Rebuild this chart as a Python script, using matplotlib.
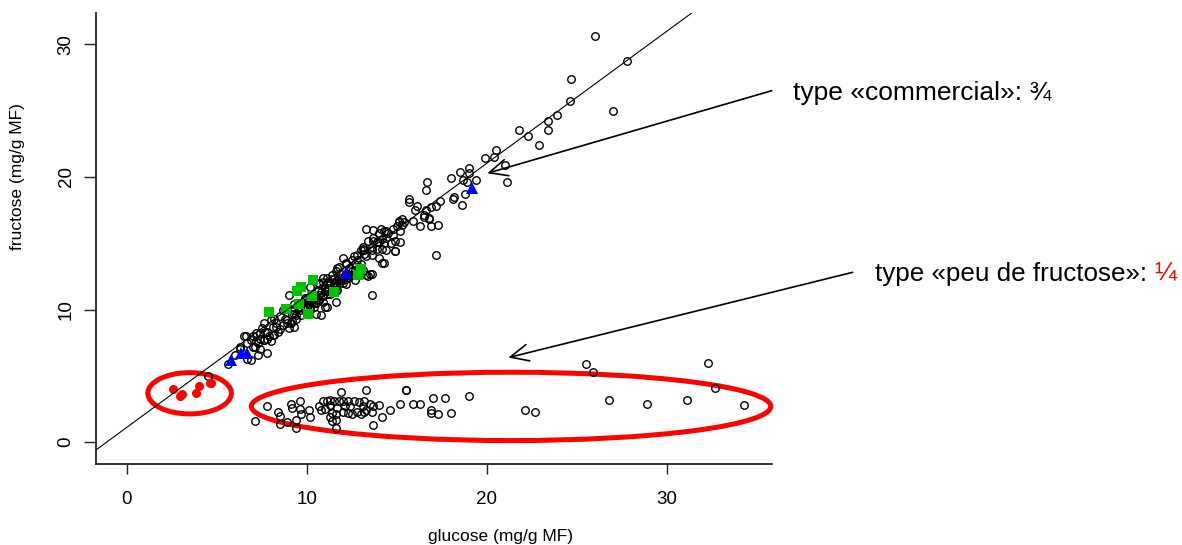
import matplotlib
matplotlib.use("Agg")
import matplotlib.pyplot as plt
from matplotlib.patches import Ellipse

plt.rcParams["font.family"] = ["Liberation Sans", "DejaVu Sans"]

# samples on the glucose/fructose line (open circles)
glucose_main = [
    26.0, 27.8, 24.7, 24.6, 27.0, 23.9, 23.4, 23.4, 21.8, 22.3, 22.9, 20.5, 19.9, 20.4,
    21.0, 21.1, 19.4, 19.0, 18.5, 18.0, 18.7, 19.0, 16.7, 16.6, 18.8, 18.6, 18.1, 18.2,
    15.7, 15.7, 16.1, 17.4, 17.2, 16.9, 16.6, 16.5, 16.8, 17.3, 16.3, 15.9, 15.4, 16.9,
    18.9, 16.0, 16.5, 16.8, 15.1, 15.3, 15.0, 14.8, 13.3, 13.7, 14.1, 14.4, 14.0, 13.7,
    13.4, 13.1, 13.9, 14.2, 14.8, 14.4, 15.2, 14.9, 14.2, 17.2, 13.0, 13.2, 12.8, 13.3,
    13.6, 13.9, 12.0, 11.7, 11.9, 12.4, 12.7, 12.2, 12.8, 12.6, 13.5, 13.4, 13.6, 10.9,
    11.2, 11.5, 10.7, 11.1, 10.6, 10.4, 10.0, 10.3, 10.7, 10.9, 11.3, 11.7, 12.0, 12.3,
    11.6, 11.0, 10.4, 10.0, 9.6, 9.0, 9.3, 9.1, 8.9, 8.5, 8.3, 8.2, 8.0, 8.7, 9.3, 9.5,
    7.6, 7.5, 7.8, 7.2, 7.0, 7.4, 7.8, 8.1, 8.5, 8.3, 6.5, 6.9, 7.2, 7.6, 6.7, 7.0, 7.4,
    7.8, 7.3, 8.0, 5.6, 6.0, 6.3, 6.7, 6.9,
    14.3, 14.5, 15.3, 15.1, 14.9, 15.2, 14.7, 14.3, 14.0, 13.7, 13.6, 14.2, 14.4, 14.9,
    14.0, 14.3, 13.6, 13.2, 13.1, 12.5, 12.2, 11.8, 11.6, 11.4, 11.1, 10.9, 10.7, 11.0,
    11.2, 10.9, 10.7, 10.5, 10.2, 9.9, 9.7, 9.4, 9.2, 8.9, 9.3, 9.0, 8.4, 8.2, 7.9, 7.6,
    7.3, 7.1, 6.6, 6.3, 13.6, 13.3, 12.7, 11.9, 11.5, 11.1, 10.8, 10.5, 9.4, 8.8, 8.7,
    8.1, 7.7, 7.4, 10.2, 9.9, 9.6, 9.2, 9.3,
    9.8, 10.0, 10.1, 10.3, 10.4, 10.5, 10.6, 10.7, 10.8, 10.9, 11.0, 11.1, 11.2, 11.3,
    11.4, 11.5, 11.6, 11.7, 11.8, 11.9, 12.0, 12.1, 12.2, 12.3, 12.4, 12.5, 12.6, 12.7,
    12.8, 12.9, 13.0, 13.1, 10.2, 10.9, 11.6, 12.2, 9.5, 9.9, 10.6, 11.4, 4.5,
]
fructose_main = [
    30.6, 28.7, 27.4, 25.7, 25.0, 24.7, 24.2, 23.5, 23.5, 23.1, 22.4, 22.0, 21.4, 21.5,
    20.9, 19.6, 19.8, 20.7, 20.4, 19.9, 19.8, 20.3, 19.6, 19.0, 18.7, 17.9, 18.3, 18.5,
    18.3, 18.1, 17.8, 18.2, 17.8, 17.7, 17.5, 17.1, 16.9, 16.4, 16.3, 16.7, 16.6, 16.3,
    19.6, 17.5, 17.0, 16.8, 16.7, 16.4, 16.3, 16.1, 16.1, 16.0, 16.1, 15.9, 15.8, 15.4,
    15.2, 14.7, 15.1, 15.3, 15.6, 15.4, 15.9, 14.4, 13.5, 14.1, 14.5, 14.5, 14.1, 14.0,
    14.7, 14.6, 13.9, 13.1, 12.7, 13.1, 13.4, 13.5, 13.7, 14.0, 12.7, 12.5, 11.1, 12.4,
    12.1, 11.7, 12.0, 11.5, 11.4, 11.0, 10.9, 10.6, 10.7, 11.0, 11.2, 11.5, 12.0, 12.4,
    10.6, 10.2, 10.2, 10.2, 10.0, 11.1, 9.7, 9.0, 9.2, 9.5, 9.0, 9.3, 9.2, 10.0, 10.4, 10.2,
    9.0, 8.6, 8.3, 8.2, 8.0, 7.8, 7.8, 8.1, 8.5, 8.7, 8.0, 7.7, 7.6, 7.7, 7.5, 7.2, 7.0,
    6.7, 6.6, 7.6, 5.9, 6.6, 7.0, 6.3, 6.2,
    15.9, 15.8, 16.8, 16.6, 15.2, 15.1, 15.0, 15.0, 15.1, 15.2, 14.5, 14.6, 14.5, 14.4,
    13.9, 13.5, 14.1, 14.2, 14.6, 13.7, 13.4, 13.2, 12.9, 12.6, 12.4, 12.1, 11.9, 11.6,
    11.4, 11.0, 10.7, 10.5, 10.2, 10.0, 9.6, 9.3, 9.1, 9.0, 8.7, 8.6, 8.3, 8.1, 8.0, 7.7,
    7.5, 7.2, 8.0, 7.2, 12.7, 12.6, 12.2, 12.2, 12.0, 10.2, 9.6, 9.7, 9.6, 9.3, 8.8,
    8.7, 8.3, 8.2, 11.7, 10.7, 10.2, 9.7, 10.0,
    10.5, 10.6, 10.4, 10.8, 10.5, 11.0, 10.7, 11.1, 11.3, 11.0, 11.4, 11.2, 11.6, 11.9,
    11.5, 12.0, 11.8, 12.2, 12.0, 12.4, 12.2, 12.6, 12.3, 12.7, 12.5, 12.9, 12.6, 13.0,
    12.8, 13.2, 13.4, 13.0, 10.0, 10.6, 11.4, 11.9, 10.2, 10.9, 11.5, 12.3, 5.0,
]

# low-fructose samples (open circles)
glucose_low = [
    7.1, 7.8, 8.4, 8.5, 8.5, 8.9, 9.1, 9.2, 9.6, 9.6, 9.4, 9.4, 9.7, 10.1, 10.2, 10.7,
    10.9, 11.3, 11.0, 11.3, 11.4, 11.3, 11.6, 11.6, 11.9, 11.8, 12.0, 12.3, 12.0, 12.3,
    12.5, 12.6, 12.9, 12.8, 13.0, 13.2, 13.3, 13.5, 13.6, 13.3, 14.0, 13.7, 14.2, 14.6,
    15.2, 15.5, 15.5, 15.9, 16.3, 11.5, 11.7, 12.1, 12.4, 13.1, 13.2, 13.7, 11.6, 11.4,
    11.1, 10.8, 17.0, 17.7, 16.9, 16.9, 17.3, 18.0, 19.0, 22.1, 22.7, 25.5, 25.9, 26.8,
    28.9, 31.1, 32.3, 32.7, 34.3,
]
fructose_low = [
    1.6, 2.7, 2.3, 2.0, 1.4, 1.5, 2.9, 2.6, 3.1, 2.5, 1.7, 1.1, 2.1, 2.4, 1.9, 2.7,
    3.1, 3.2, 2.5, 2.8, 2.2, 1.9, 1.7, 1.1, 3.8, 3.1, 3.1, 3.1, 2.3, 2.2,
    2.1, 3.1, 3.0, 2.3, 2.1, 3.1, 2.4, 2.9, 2.3, 3.9, 2.8, 1.3, 1.9, 2.4,
    2.9, 3.9, 3.95, 2.9, 2.9, 3.1, 2.6, 2.7, 2.7, 2.7, 2.3, 2.7, 2.1, 1.6,
    3.1, 2.4, 3.3, 3.3, 2.4, 2.2, 2.1, 2.2, 3.5, 2.4, 2.3, 5.9, 5.3, 3.2,
    2.9, 3.2, 6.0, 4.1, 2.8,
]

# highlighted groups
glucose_green = [7.89, 8.83, 9.57, 10.06, 10.28, 9.44, 9.68, 10.35, 11.52, 12.87, 13.02]
fructose_green = [9.84, 10.07, 10.44, 9.69, 11.02, 11.42, 11.68, 12.23, 11.35, 12.61, 13.06]
glucose_blue = [5.78, 6.35, 6.67, 12.17, 19.2]
fructose_blue = [6.20, 6.75, 6.71, 12.78, 19.14]
glucose_red = [2.56, 2.98, 3.05, 4.02, 3.87, 4.68, 4.6]
fructose_red = [4.04, 3.52, 3.62, 4.23, 3.70, 4.44, 4.5]

fit_intercept = 1.12
fit_slope = 0.995

W, H = 1182, 545
fig = plt.figure(figsize=(W / 100, H / 100), dpi=100)
ax = fig.add_axes([96 / W, 1 - 464 / H, (772 - 96) / W, (464 - 13) / H])
ax.set_xlim(-1.71, 35.85)
ax.set_ylim(-1.64, 32.35)

ax.plot(glucose_main, fructose_main, "o", ms=5.4, mfc="none", mec="black", mew=1.0)
ax.plot(glucose_low, fructose_low, "o", ms=5.4, mfc="none", mec="black", mew=1.0)
ax.plot(glucose_green, fructose_green, "s", ms=7.5, color="#00c400", mew=0)
ax.plot(glucose_blue, fructose_blue, "^", ms=8, color="#0000ff", mew=0)
ax.plot(glucose_red, fructose_red, "o", ms=6.5, color="#ff0000", mew=0)
ax.axline((0, fit_intercept), slope=fit_slope, color="black", lw=0.8)

ax.add_patch(Ellipse((3.49, 3.69), 4.64, 3.11, fill=False, ec="#ff0000", lw=3.6, clip_on=False))
ax.add_patch(Ellipse((21.35, 2.70), 28.86, 5.15, fill=False, ec="#ff0000", lw=3.6, clip_on=False))

for side in ["top", "right"]:
    ax.spines[side].set_visible(False)
for side in ["left", "bottom"]:
    ax.spines[side].set_linewidth(1.3)
    ax.spines[side].set_color("#222222")

ax.set_xticks([0, 10, 20, 30])
ax.set_yticks([0, 10, 20, 30])
ax.tick_params(axis="x", length=7.2, width=1, pad=12, labelsize=13.5, color="#222222")
ax.tick_params(axis="y", length=8.4, width=1, pad=7, labelsize=13.5, color="#222222",
               labelrotation=90)
for lbl in ax.get_yticklabels():
    lbl.set_va("center")

fig.text(18 / W, 1 - 177 / H, "fructose (mg/g MF)", rotation=90, ha="center",
         va="center", fontsize=12.5)
fig.text(500 / W, 1 - 537 / H, "glucose (mg/g MF)", ha="center", va="center",
         fontsize=12.5)

arrow = dict(arrowstyle="->,head_length=0.65,head_width=0.3", lw=1.2, color="black",
             shrinkA=0, shrinkB=0, mutation_scale=20)
ax.annotate("", xy=(20.03, 20.27), xycoords="data", xytext=(771.7 / W, 1 - 90.7 / H),
            textcoords="figure fraction", arrowprops=arrow, annotation_clip=False)
ax.annotate("", xy=(21.2, 6.38), xycoords="data", xytext=(852.7 / W, 1 - 272.3 / H),
            textcoords="figure fraction", arrowprops=arrow, annotation_clip=False)

fig.text(792.7 / W, 1 - 100 / H, "type «commercial»: ¾", fontsize=19, va="baseline")
t2 = fig.text(875 / W, 1 - 280.7 / H, "type «peu de fructose»: ", fontsize=18.7,
              va="baseline")
fig.canvas.draw()
bb = t2.get_window_extent()
fig.text(bb.x1 / W, 1 - 280.7 / H, "¼", fontsize=18.7, va="baseline", color="#ff0000")

fig.savefig("out.png", dpi=100)
